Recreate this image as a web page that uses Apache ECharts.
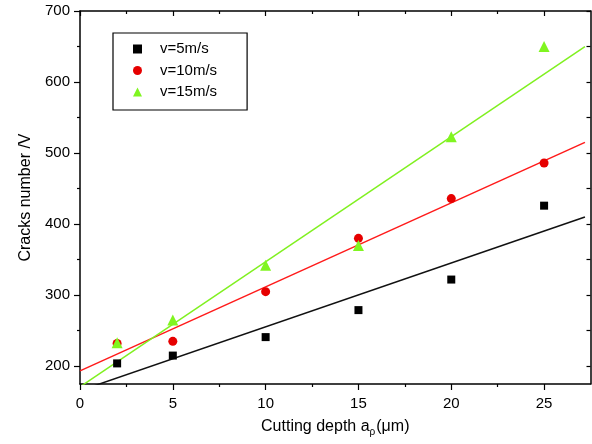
<!DOCTYPE html>
<html>
<head>
<meta charset="utf-8">
<script src="https://cdn.jsdelivr.net/npm/echarts@6/dist/echarts.min.js"></script>
<style>html,body{margin:0;padding:0;background:#fff}#c{width:592px;height:444px}</style>
</head>
<body>
<div id="c"></div>
<script>
// ---- data ----
var depths = [2, 5, 10, 15, 20, 25];
var v5  = [204, 215, 241, 279, 322, 426];
var v10 = [232, 235, 305, 380, 436, 486];
var v15 = [233, 265, 342, 370, 523, 650];
// fitted straight lines (end points)
var fit5  = [[0, 165.6], [27.2, 410]];
var fit10 = [[0, 193.5], [27.2, 515]];
var fit15 = [[0, 171], [27.2, 650]];
var seriesNames = ['v=5m/s', 'v=10m/s', 'v=15m/s'];
var xMajor = [0, 5, 10, 15, 20, 25];
var xMinor = [2.5, 7.5, 12.5, 17.5, 22.5];
var yMajor = [200, 300, 400, 500, 600, 700];
var yMinor = [250, 350, 450, 550, 650];

var FONT = 'Liberation Sans, Arial, sans-serif';
var X_MIN = 0, X_MAX = 27.5, Y_MIN = 175, Y_MAX = 700;

function pairs(xs, ys) { return xs.map(function (x, i) { return [x, ys[i]]; }); }

function xAx(pos, vals, len, inside, showLine, showLabel, extra) {
  var a = {
    type: 'value', position: pos, min: X_MIN, max: X_MAX,
    axisLine: { show: showLine, onZero: false, lineStyle: { color: '#000', width: 1.5 } },
    axisTick: { show: true, inside: inside, length: len, customValues: vals, lineStyle: { color: '#000', width: 1.2 } },
    axisLabel: { show: showLabel, customValues: vals, color: '#000', fontFamily: FONT, fontSize: 15, margin: 12 },
    splitLine: { show: false }
  };
  return Object.assign(a, extra || {});
}
function yAx(pos, vals, len, inside, showLine, showLabel, extra) {
  var a = {
    type: 'value', position: pos, min: Y_MIN, max: Y_MAX,
    axisLine: { show: showLine, onZero: false, lineStyle: { color: '#000', width: 1.5 } },
    axisTick: { show: true, inside: inside, length: len, customValues: vals, lineStyle: { color: '#000', width: 1.2 } },
    axisLabel: { show: showLabel, customValues: vals, color: '#000', fontFamily: FONT, fontSize: 15, margin: 10 },
    splitLine: { show: false }
  };
  return Object.assign(a, extra || {});
}

var chart = echarts.init(document.getElementById('c'));
chart.setOption({
  backgroundColor: '#fff',
  animation: false,
  grid: { left: 80, top: 11, right: 1.5, bottom: 60, containLabel: false },
  legend: {
    data: [
      { name: seriesNames[0], icon: 'rect' },
      { name: seriesNames[1], icon: 'circle' },
      { name: seriesNames[2], icon: 'triangle' }
    ],
    orient: 'vertical', left: 113, top: 33,
    padding: [8, 30, 10, 20],
    itemWidth: 9, itemHeight: 9, itemGap: 5.5,
    borderColor: '#000', borderWidth: 1.2,
    textStyle: { color: '#000', fontFamily: FONT, fontSize: 15, lineHeight: 16, padding: [0, 0, 0, 13] }
  },
  xAxis: [
    xAx('bottom', xMajor, 6, false, true, true, {
      name: '{n|Cutting depth a}{s|ρ}{n|(μm)}', nameLocation: 'middle', nameGap: 33,
      nameTextStyle: { rich: {
        n: { fontFamily: FONT, fontSize: 16, color: '#000' },
        s: { fontFamily: FONT, fontSize: 10, color: '#000', verticalAlign: 'bottom', padding: [10, 1, 0, 0] }
      } }
    }),
    xAx('bottom', xMinor, 3, false, false, false),
    xAx('top', xMajor, 5, true, true, false),
    xAx('top', xMinor, 3, true, false, false)
  ],
  yAxis: [
    yAx('left', yMajor, 6, false, true, true, {
      name: 'Cracks number /V', nameLocation: 'middle', nameGap: 46,
      nameTextStyle: { fontFamily: FONT, fontSize: 16, color: '#000' }
    }),
    yAx('left', yMinor, 3, false, false, false),
    yAx('right', yMajor, 4, true, true, false),
    yAx('right', yMinor, 4, true, false, false)
  ],
  series: [
    { name: seriesNames[0], type: 'scatter', symbol: 'rect', symbolSize: 8, data: pairs(depths, v5), itemStyle: { color: '#000', opacity: 1 }, z: 5 },
    { name: seriesNames[1], type: 'scatter', symbol: 'circle', symbolSize: 9, data: pairs(depths, v10), itemStyle: { color: '#e60000', opacity: 1 }, z: 5 },
    { name: seriesNames[2], type: 'scatter', symbol: 'triangle', symbolSize: 11, data: pairs(depths, v15), itemStyle: { color: '#80f520', opacity: 1 }, z: 5 },
    { name: 'fit5', type: 'line', data: fit5, symbol: 'none', clip: true, lineStyle: { color: '#111', width: 1.5 }, z: 3 },
    { name: 'fit10', type: 'line', data: fit10, symbol: 'none', clip: true, lineStyle: { color: '#ff1a1a', width: 1.5 }, z: 3 },
    { name: 'fit15', type: 'line', data: fit15, symbol: 'none', clip: true, lineStyle: { color: '#80f020', width: 1.5 }, z: 3 }
  ]
});
</script>
</body>
</html>
